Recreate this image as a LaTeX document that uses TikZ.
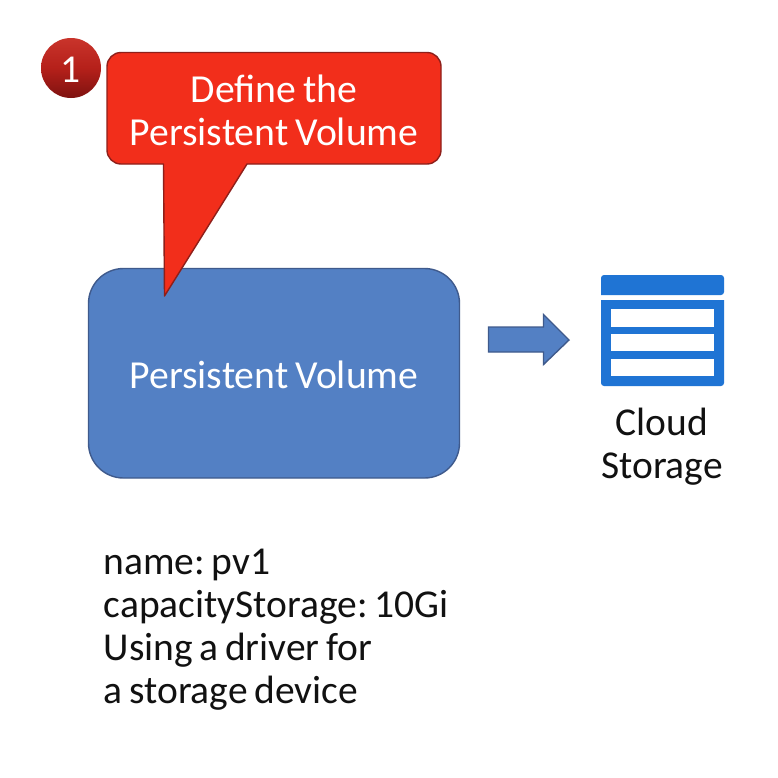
\documentclass[tikz,border=0pt]{standalone}
\usepackage{fontspec}
\setmainfont[WordSpace=0.75]{Carlito}
\definecolor{calloutred}{HTML}{F22E1B}
\definecolor{calloutedge}{HTML}{8E1F1A}
\definecolor{boxblue}{HTML}{5380C4}
\definecolor{boxedge}{HTML}{3F5A8C}
\definecolor{storeblue}{HTML}{1F74D4}
\definecolor{ink}{HTML}{111111}
\definecolor{badgetop}{HTML}{C9342B}
\definecolor{badgemid}{HTML}{B5201A}
\definecolor{badgebot}{HTML}{7E1210}
\tikzset{
  x=1pt,y=-1pt,
  whitetext/.style={text=white,font=\fontsize{39.7}{43}\selectfont\frenchspacing,align=center,inner sep=0pt},
  blacktext/.style={text=ink,font=\fontsize{39.5}{43}\selectfont\frenchspacing,inner sep=0pt},
  storerow/.style={fill=white,draw=none},
}
\begin{document}
\begin{tikzpicture}
\useasboundingbox (0,0) rectangle (778,777);
\fill[white] (0,0) rectangle (778,777);
% badge
\shade[top color=badgetop,bottom color=badgebot,middle color=badgemid]
  (71,68) circle[radius=30];
\node[text=white,font=\fontsize{39.5}{43}\selectfont,inner sep=0pt] (badge) at (71,70) {1};
% persistent volume box
\draw[fill=boxblue,draw=boxedge,line width=1.4pt,rounded corners=35pt]
  (88.5,268.5) rectangle (459.5,478);
\node[whitetext] (pv) at (274,375) {Persistent Volume};
% callout
\draw[fill=calloutred,draw=calloutedge,line width=1.4pt,line join=round]
  (247,164) -- (164.5,296) -- (163.5,164)
  [rounded corners=14pt] -- (107,164) -- (107,52.5) -- (441,52.5) -- (441,164)
  [sharp corners] -- cycle;
\node[whitetext] (callout) at (274,110) {Define the\\Persistent Volume};
% arrow
\draw[fill=boxblue,draw=boxedge,line width=1.4pt,line join=miter]
  (488.5,327) -- (543.5,327) -- (543.5,314.5) -- (569,340) -- (543.5,364.5)
  -- (543.5,352) -- (488.5,352) -- cycle;
% storage icon
\fill[storeblue,rounded corners=3pt] (601,295) -- (601,275) -- (724,275) -- (724,295) [sharp corners] -- cycle;
\fill[storeblue] (601,300) -- (724,300) [rounded corners=3pt] -- (724,386) -- (601,386) [sharp corners] -- cycle;
\fill[storerow] (611,309) rectangle (714,327);
\fill[storerow] (611,334) rectangle (714,351);
\fill[storerow] (611,359) rectangle (714,376);
\node[blacktext,align=center] (cloud) at (662,447) {Cloud\\Storage};
% notes
\node[blacktext,align=left,anchor=north west] (notes) at (103.5,549)
  {name: pv1\\capacityStorage: 10Gi\\Using a driver for\\a storage device};
\end{tikzpicture}
\end{document}
